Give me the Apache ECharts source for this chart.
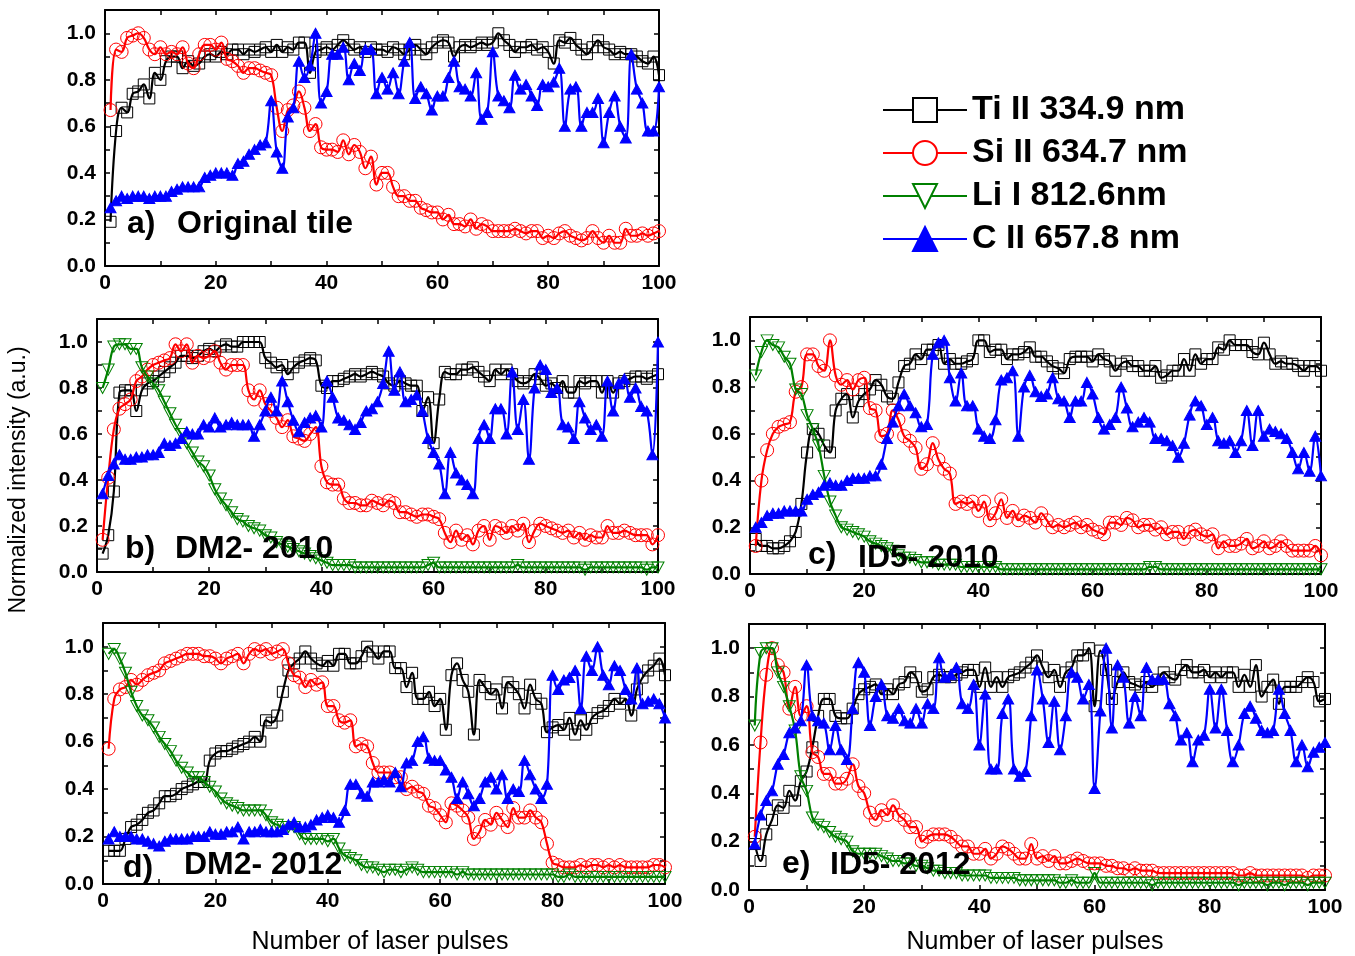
<!DOCTYPE html>
<html><head><meta charset="utf-8">
<script src="https://cdn.jsdelivr.net/npm/echarts@6/dist/echarts.min.js"></script>
<style>html,body{margin:0;padding:0;background:#fff}#c{width:1355px;height:956px}</style>
</head><body><div id="c"></div>
<script>
const pulses = [1,2,3,4,5,6,7,8,9,10,11,12,13,14,15,16,17,18,19,20,21,22,23,24,25,26,27,28,29,30,31,32,33,34,35,36,37,38,39,40,41,42,43,44,45,46,47,48,49,50,51,52,53,54,55,56,57,58,59,60,61,62,63,64,65,66,67,68,69,70,71,72,73,74,75,76,77,78,79,80,81,82,83,84,85,86,87,88,89,90,91,92,93,94,95,96,97,98,99,100];
const seriesNames = ['Ti II 334.9 nm','Si II 634.7 nm','Li I 812.6nm','C II 657.8 nm'];
const panelLabels = [['a)','Original tile'],['b)','DM2- 2010'],['c)','ID5- 2010'],['d)','DM2- 2012'],['e)','ID5- 2012']];
const xTitle = 'Number of laser pulses';
const yTitle = 'Normalized intensity (a.u.)';

// ---- panel a) Original tile ----
const tiA = [
0.19,0.58,0.68,0.66,0.74,0.75,0.78,0.72,0.83,0.80,
0.88,0.90,0.90,0.85,0.88,0.86,0.87,0.90,0.91,0.90,
0.92,0.91,0.93,0.93,0.91,0.93,0.92,0.93,0.94,0.92,
0.95,0.92,0.94,0.93,0.96,0.96,0.83,0.92,0.93,0.94,
0.93,0.95,0.97,0.95,0.93,0.94,0.92,0.94,0.93,0.93,
0.92,0.94,0.93,0.91,0.93,0.95,0.93,0.91,0.94,0.96,
0.97,0.96,0.90,0.94,0.95,0.94,0.95,0.96,0.95,0.96,
1.00,0.97,0.95,0.92,0.94,0.94,0.95,0.93,0.94,0.92,
0.87,0.97,0.96,0.98,0.95,0.93,0.91,0.94,0.97,0.94,
0.93,0.91,0.92,0.91,0.91,0.90,0.88,0.87,0.90,0.82];
const siA = [
0.67,0.93,0.92,0.98,0.99,1.00,0.98,0.93,0.91,0.94,
0.91,0.92,0.91,0.94,0.87,0.85,0.91,0.95,0.95,0.93,
0.96,0.89,0.88,0.86,0.83,0.85,0.85,0.84,0.83,0.82,
0.68,0.58,0.67,0.69,0.75,0.68,0.58,0.61,0.51,0.50,
0.50,0.49,0.54,0.48,0.52,0.49,0.42,0.47,0.35,0.40,
0.40,0.34,0.30,0.30,0.28,0.28,0.25,0.24,0.23,0.23,
0.20,0.22,0.18,0.18,0.17,0.20,0.16,0.18,0.17,0.15,
0.15,0.15,0.15,0.16,0.15,0.14,0.15,0.15,0.12,0.13,
0.12,0.14,0.15,0.13,0.12,0.11,0.12,0.15,0.12,0.10,
0.13,0.10,0.10,0.16,0.13,0.13,0.14,0.13,0.14,0.15];
const cA = [
0.25,0.28,0.30,0.29,0.30,0.30,0.30,0.29,0.30,0.30,
0.30,0.32,0.33,0.34,0.34,0.34,0.34,0.38,0.39,0.40,
0.40,0.40,0.39,0.44,0.45,0.48,0.50,0.52,0.53,0.71,
0.49,0.42,0.64,0.68,0.88,0.81,0.86,1.00,0.70,0.75,
0.91,0.91,0.94,0.80,0.87,0.84,0.93,0.93,0.74,0.81,
0.76,0.83,0.74,0.88,0.96,0.72,0.77,0.74,0.67,0.73,
0.73,0.81,0.88,0.77,0.76,0.73,0.83,0.63,0.66,0.92,
0.73,0.71,0.68,0.82,0.76,0.78,0.73,0.69,0.78,0.77,
0.79,0.85,0.60,0.76,0.77,0.60,0.66,0.66,0.72,0.53,
0.66,0.73,0.60,0.55,0.91,0.76,0.70,0.58,0.58,0.77];

// ---- panel b) DM2- 2010 ----
const tiB = [
0.08,0.16,0.35,0.78,0.79,0.79,0.70,0.79,0.82,0.83,
0.85,0.87,0.89,0.91,0.94,0.94,0.93,0.94,0.96,0.97,
0.96,0.98,0.99,0.98,0.98,1.00,1.00,1.00,1.00,0.93,
0.91,0.89,0.90,0.86,0.89,0.91,0.92,0.93,0.92,0.81,
0.80,0.83,0.83,0.84,0.85,0.86,0.85,0.86,0.87,0.86,
0.85,0.82,0.81,0.83,0.82,0.81,0.81,0.70,0.76,0.56,
0.75,0.87,0.86,0.86,0.88,0.88,0.89,0.87,0.85,0.83,
0.88,0.86,0.88,0.86,0.83,0.82,0.83,0.86,0.84,0.81,
0.82,0.80,0.83,0.78,0.78,0.83,0.82,0.83,0.83,0.78,
0.83,0.78,0.82,0.83,0.84,0.85,0.85,0.84,0.85,0.86];
const siB = [
0.14,0.41,0.62,0.71,0.73,0.75,0.83,0.85,0.88,0.90,
0.91,0.92,0.93,0.99,0.96,0.99,0.91,0.94,0.93,0.94,
0.96,0.91,0.88,0.90,0.90,0.90,0.79,0.75,0.79,0.73,
0.70,0.67,0.63,0.66,0.59,0.58,0.57,0.60,0.63,0.46,
0.39,0.38,0.38,0.32,0.30,0.30,0.29,0.29,0.31,0.30,
0.29,0.31,0.30,0.26,0.26,0.25,0.24,0.25,0.25,0.24,
0.23,0.17,0.13,0.18,0.14,0.16,0.12,0.18,0.20,0.14,
0.20,0.19,0.17,0.20,0.18,0.21,0.13,0.18,0.21,0.20,
0.19,0.18,0.17,0.18,0.15,0.17,0.14,0.16,0.15,0.15,
0.20,0.17,0.17,0.18,0.17,0.16,0.16,0.16,0.12,0.16];
const liB = [
0.80,0.88,0.98,0.99,0.99,0.97,0.97,0.89,0.85,0.82,
0.79,0.74,0.69,0.64,0.60,0.56,0.52,0.48,0.46,0.42,
0.36,0.32,0.29,0.26,0.23,0.22,0.20,0.19,0.18,0.16,
0.15,0.13,0.12,0.11,0.10,0.09,0.08,0.07,0.06,0.05,
0.04,0.03,0.03,0.03,0.03,0.02,0.02,0.02,0.02,0.02,
0.02,0.02,0.02,0.02,0.02,0.02,0.02,0.02,0.03,0.04,
0.02,0.02,0.02,0.02,0.02,0.02,0.02,0.02,0.02,0.02,
0.02,0.02,0.02,0.02,0.03,0.02,0.02,0.02,0.02,0.02,
0.02,0.02,0.02,0.02,0.02,0.02,0.01,0.02,0.02,0.02,
0.02,0.02,0.02,0.02,0.02,0.02,0.02,0.01,0.02,0.02];
const cB = [
0.34,0.42,0.47,0.51,0.49,0.49,0.50,0.50,0.51,0.51,
0.52,0.56,0.55,0.56,0.58,0.61,0.60,0.60,0.64,0.63,
0.67,0.63,0.64,0.65,0.64,0.64,0.64,0.59,0.64,0.70,
0.76,0.70,0.83,0.74,0.66,0.61,0.65,0.67,0.68,0.63,
0.83,0.76,0.67,0.66,0.64,0.62,0.65,0.70,0.71,0.74,
0.82,0.96,0.79,0.87,0.74,0.75,0.77,0.70,0.58,0.52,
0.47,0.34,0.52,0.43,0.40,0.38,0.34,0.58,0.64,0.58,
0.71,0.71,0.60,0.87,0.62,0.75,0.49,0.80,0.90,0.88,
0.78,0.80,0.64,0.63,0.58,0.74,0.67,0.62,0.64,0.59,
0.83,0.70,0.82,0.84,0.76,0.80,0.72,0.70,0.51,1.00];

// ---- panel c) ID5- 2010 ----
const tiC = [
0.15,0.12,0.12,0.11,0.11,0.12,0.14,0.18,0.30,0.52,
0.62,0.60,0.55,0.52,0.70,0.75,0.77,0.67,0.74,0.77,
0.79,0.83,0.81,0.76,0.75,0.82,0.89,0.90,0.94,0.92,
0.96,0.96,0.98,0.90,0.92,0.90,0.90,0.91,0.92,1.00,
1.00,0.95,0.96,0.96,0.92,0.94,0.94,0.95,0.97,0.93,
0.93,0.91,0.89,0.88,0.86,0.92,0.93,0.93,0.93,0.91,
0.94,0.92,0.91,0.87,0.90,0.91,0.89,0.89,0.87,0.87,
0.89,0.84,0.85,0.87,0.87,0.92,0.87,0.94,0.90,0.92,
0.92,0.97,0.96,1.00,0.98,0.98,0.98,0.95,0.94,0.99,
0.94,0.90,0.91,0.90,0.90,0.89,0.87,0.89,0.89,0.87];
const siC = [
0.12,0.40,0.53,0.60,0.63,0.64,0.65,0.78,0.80,0.94,
0.94,0.89,0.87,1.00,0.85,0.81,0.83,0.79,0.83,0.84,
0.71,0.70,0.59,0.60,0.70,0.66,0.59,0.57,0.54,0.45,
0.47,0.56,0.49,0.45,0.43,0.30,0.31,0.30,0.31,0.27,
0.31,0.23,0.26,0.32,0.24,0.27,0.23,0.25,0.24,0.22,
0.26,0.23,0.20,0.21,0.20,0.21,0.22,0.20,0.21,0.19,
0.18,0.17,0.22,0.22,0.21,0.24,0.23,0.20,0.21,0.21,
0.19,0.20,0.17,0.18,0.18,0.15,0.18,0.19,0.17,0.16,
0.17,0.11,0.14,0.12,0.12,0.13,0.15,0.11,0.12,0.14,
0.11,0.12,0.14,0.12,0.10,0.10,0.10,0.10,0.12,0.08];
const liC = [
0.85,0.95,1.00,0.98,0.97,0.93,0.90,0.79,0.77,0.68,
0.62,0.55,0.42,0.31,0.25,0.20,0.19,0.18,0.17,0.16,
0.14,0.13,0.12,0.11,0.10,0.08,0.07,0.07,0.06,0.05,
0.05,0.05,0.04,0.04,0.04,0.04,0.03,0.03,0.03,0.03,
0.03,0.03,0.03,0.02,0.02,0.02,0.02,0.02,0.02,0.02,
0.02,0.02,0.02,0.02,0.02,0.02,0.02,0.02,0.02,0.02,
0.02,0.02,0.02,0.02,0.02,0.02,0.02,0.02,0.02,0.03,
0.03,0.02,0.02,0.02,0.02,0.02,0.02,0.02,0.02,0.02,
0.02,0.02,0.02,0.02,0.02,0.02,0.02,0.02,0.02,0.02,
0.02,0.02,0.02,0.02,0.02,0.02,0.02,0.02,0.02,0.02];
const cC = [
0.20,0.22,0.25,0.26,0.26,0.27,0.27,0.27,0.27,0.32,
0.34,0.35,0.38,0.39,0.38,0.38,0.40,0.41,0.41,0.41,
0.42,0.42,0.47,0.58,0.65,0.72,0.77,0.72,0.69,0.63,
0.64,0.94,0.99,1.00,0.84,0.74,0.86,0.72,0.72,0.62,
0.59,0.58,0.66,0.83,0.84,0.87,0.59,0.80,0.85,0.78,
0.76,0.77,0.84,0.75,0.74,0.67,0.74,0.74,0.82,0.77,
0.67,0.62,0.64,0.67,0.80,0.71,0.63,0.65,0.67,0.65,
0.58,0.58,0.57,0.55,0.50,0.56,0.68,0.74,0.72,0.64,
0.67,0.57,0.56,0.57,0.52,0.57,0.70,0.55,0.70,0.59,
0.62,0.61,0.60,0.58,0.52,0.45,0.52,0.44,0.59,0.42];

// ---- panel d) DM2- 2012 ----
const tiD = [
0.14,0.14,0.14,0.19,0.24,0.25,0.27,0.30,0.31,0.34,
0.37,0.37,0.38,0.40,0.41,0.42,0.43,0.43,0.52,0.55,
0.56,0.56,0.57,0.58,0.59,0.60,0.62,0.60,0.69,0.68,
0.71,0.81,0.90,0.93,0.95,0.98,0.95,0.93,0.92,0.94,
0.92,0.97,0.97,0.93,0.93,0.96,1.00,0.98,0.95,0.98,
0.98,0.91,0.91,0.83,0.89,0.78,0.78,0.81,0.75,0.78,
0.65,0.88,0.93,0.86,0.81,0.63,0.86,0.83,0.80,0.82,
0.74,0.85,0.83,0.80,0.74,0.84,0.78,0.76,0.64,0.66,
0.67,0.65,0.70,0.63,0.69,0.65,0.70,0.72,0.73,0.75,
0.78,0.76,0.78,0.71,0.82,0.87,0.90,0.92,0.95,0.88];
const siD = [
0.57,0.78,0.82,0.83,0.86,0.84,0.86,0.88,0.89,0.90,
0.93,0.94,0.95,0.96,0.97,0.97,0.97,0.96,0.96,0.95,
0.93,0.95,0.96,0.97,0.93,0.97,0.99,0.98,0.99,0.97,
0.98,0.99,0.93,0.88,0.87,0.83,0.86,0.84,0.85,0.75,
0.75,0.69,0.68,0.69,0.58,0.59,0.58,0.51,0.47,0.47,
0.47,0.45,0.45,0.40,0.41,0.39,0.38,0.33,0.32,0.29,
0.26,0.34,0.33,0.31,0.28,0.19,0.22,0.27,0.25,0.30,
0.27,0.24,0.32,0.28,0.28,0.31,0.28,0.26,0.17,0.09,
0.08,0.07,0.07,0.07,0.08,0.07,0.08,0.08,0.07,0.08,
0.07,0.08,0.07,0.07,0.07,0.07,0.07,0.08,0.08,0.07];
const liD = [
0.97,0.99,0.95,0.89,0.81,0.75,0.71,0.69,0.66,0.62,
0.59,0.56,0.52,0.49,0.47,0.45,0.45,0.43,0.41,0.39,
0.36,0.34,0.33,0.32,0.31,0.31,0.31,0.31,0.29,0.26,
0.25,0.24,0.24,0.24,0.21,0.19,0.19,0.19,0.19,0.18,
0.19,0.15,0.12,0.11,0.10,0.08,0.07,0.07,0.06,0.05,
0.06,0.06,0.05,0.06,0.07,0.06,0.05,0.05,0.05,0.05,
0.05,0.05,0.04,0.05,0.04,0.04,0.04,0.04,0.04,0.04,
0.04,0.04,0.04,0.04,0.04,0.04,0.04,0.04,0.04,0.04,
0.03,0.03,0.04,0.03,0.03,0.03,0.03,0.03,0.03,0.03,
0.03,0.03,0.03,0.03,0.03,0.03,0.03,0.03,0.03,0.03];
const cD = [
0.19,0.22,0.20,0.20,0.20,0.19,0.19,0.18,0.17,0.16,
0.18,0.19,0.19,0.19,0.19,0.20,0.20,0.20,0.22,0.21,
0.21,0.22,0.22,0.24,0.19,0.22,0.22,0.23,0.22,0.22,
0.22,0.23,0.25,0.26,0.24,0.24,0.25,0.27,0.28,0.29,
0.28,0.26,0.31,0.42,0.42,0.38,0.37,0.43,0.43,0.44,
0.43,0.47,0.41,0.51,0.52,0.60,0.62,0.53,0.52,0.52,
0.48,0.45,0.36,0.43,0.38,0.33,0.36,0.43,0.45,0.40,
0.46,0.36,0.40,0.39,0.52,0.46,0.40,0.36,0.42,0.88,
0.82,0.86,0.87,0.90,0.74,0.96,0.90,1.00,0.88,0.84,
0.92,0.90,0.82,0.78,0.91,0.76,0.77,0.78,0.76,0.70];

// ---- panel e) ID5- 2012 ----
const tiE = [
0.19,0.12,0.23,0.29,0.35,0.34,0.41,0.37,0.45,0.49,
0.59,0.72,0.79,0.79,0.72,0.71,0.71,0.75,0.81,0.83,
0.84,0.85,0.81,0.83,0.81,0.85,0.86,0.90,0.88,0.82,
0.83,0.88,0.89,0.88,0.88,0.89,0.90,0.91,0.91,0.84,
0.92,0.84,0.88,0.84,0.88,0.89,0.90,0.92,0.94,0.97,
0.92,0.88,0.91,0.84,0.90,0.92,0.97,0.97,1.00,0.76,
0.99,0.91,0.79,0.86,0.90,0.86,0.85,0.84,0.86,0.84,
0.87,0.90,0.88,0.87,0.91,0.93,0.90,0.90,0.91,0.88,
0.90,0.88,0.90,0.90,0.84,0.89,0.84,0.93,0.80,0.84,
0.87,0.77,0.84,0.84,0.84,0.86,0.88,0.86,0.78,0.79];
const siE = [
0.22,0.61,0.89,1.00,0.93,0.90,0.75,0.84,0.72,0.76,
0.57,0.55,0.48,0.48,0.44,0.44,0.46,0.52,0.43,0.40,
0.32,0.29,0.33,0.31,0.35,0.31,0.29,0.26,0.26,0.20,
0.22,0.23,0.23,0.23,0.22,0.20,0.18,0.18,0.15,0.15,
0.17,0.13,0.15,0.18,0.17,0.15,0.13,0.13,0.19,0.13,
0.14,0.12,0.14,0.11,0.11,0.12,0.13,0.12,0.11,0.11,
0.11,0.10,0.10,0.09,0.09,0.08,0.09,0.08,0.08,0.08,
0.07,0.07,0.07,0.07,0.07,0.07,0.07,0.07,0.07,0.07,
0.07,0.07,0.07,0.07,0.06,0.06,0.07,0.06,0.06,0.06,
0.06,0.06,0.06,0.06,0.06,0.06,0.05,0.06,0.06,0.06];
const liE = [
0.68,0.98,1.00,1.00,0.90,0.84,0.76,0.66,0.47,0.41,
0.30,0.27,0.26,0.24,0.22,0.21,0.20,0.16,0.15,0.15,
0.15,0.15,0.14,0.13,0.12,0.12,0.11,0.11,0.10,0.10,
0.09,0.08,0.08,0.07,0.07,0.07,0.06,0.06,0.06,0.06,
0.06,0.05,0.05,0.05,0.05,0.05,0.04,0.04,0.04,0.04,
0.04,0.04,0.04,0.03,0.03,0.04,0.03,0.03,0.03,0.07,
0.03,0.03,0.03,0.03,0.03,0.03,0.03,0.03,0.03,0.02,
0.03,0.03,0.03,0.03,0.03,0.03,0.03,0.03,0.03,0.03,
0.03,0.03,0.03,0.03,0.02,0.03,0.03,0.03,0.03,0.02,
0.03,0.03,0.02,0.03,0.03,0.03,0.02,0.03,0.03,0.03];
const cE = [
0.19,0.31,0.37,0.41,0.52,0.56,0.65,0.67,0.70,0.93,
0.72,0.70,0.69,0.58,0.68,0.58,0.54,0.75,0.94,0.90,
0.68,0.80,0.85,0.72,0.71,0.75,0.70,0.69,0.75,0.69,
0.77,0.75,0.96,0.88,0.89,0.92,0.77,0.75,0.85,0.60,
0.81,0.50,0.50,0.73,0.79,0.50,0.47,0.49,0.72,0.91,
0.79,0.61,0.78,0.58,0.72,0.90,0.88,0.79,0.85,0.42,
0.74,1.00,0.67,0.93,0.88,0.69,0.80,0.72,0.92,0.87,
0.87,0.87,0.77,0.72,0.62,0.65,0.53,0.62,0.64,0.83,
0.67,0.83,0.66,0.53,0.60,0.73,0.76,0.71,0.66,0.65,
0.66,0.83,0.73,0.66,0.53,0.60,0.51,0.57,0.59,0.61];

const panels = [
  {ti: tiA, si: siA, li: null, c: cA},
  {ti: tiB, si: siB, li: liB, c: cB},
  {ti: tiC, si: siC, li: liC, c: cC},
  {ti: tiD, si: siD, li: liD, c: cD},
  {ti: tiE, si: siE, li: liE, c: cE}
];
panels.forEach((p, i) => ['ti','si','li','c'].forEach(k => {
  if (p[k] && p[k].length !== pulses.length) throw new Error('panel ' + i + ' ' + k + ' has ' + p[k].length);
}));

// layout (pixels)
const grids = [
  {left: 105, top: 10, width: 554, height: 256},
  {left: 97, top: 319, width: 561, height: 253},
  {left: 750, top: 317, width: 571, height: 257},
  {left: 103, top: 623, width: 562, height: 261},
  {left: 749, top: 624, width: 576, height: 266}
];
const labelPos = [
  [[127, 224], [177, 224]],
  [[125, 549], [175, 549]],
  [[808, 555], [858, 558]],
  [[123, 868], [184, 865]],
  [[782, 864], [830, 865]]
];
const FONT = 'Liberation Sans';
const styles = [
  {symbol: 'rect', size: [11, 11], rotate: 0, line: '#000000', fill: 'rgba(0,0,0,0)', border: '#000000'},
  {symbol: 'circle', size: 13, rotate: 0, line: '#ff0000', fill: 'rgba(0,0,0,0)', border: '#ff0000'},
  {symbol: 'triangle', size: [12, 11], rotate: 180, line: '#008000', fill: 'rgba(0,0,0,0)', border: '#008000'},
  {symbol: 'triangle', size: [11, 10], rotate: 0, line: '#0000ff', fill: '#0000ff', border: '#0000ff'}
];

const xAxes = [], yAxes = [], series = [], graphics = [];
const axisLineStyle = {color: '#000', width: 2};
grids.forEach((g, i) => {
  xAxes.push({type: 'value', gridIndex: i, min: 0, max: 100, interval: 10, position: 'bottom',
    axisLine: {show: true, onZero: false, lineStyle: axisLineStyle},
    axisTick: {show: true, inside: true, length: 5, lineStyle: {color: '#000', width: 1.5}},
    axisLabel: {show: true, margin: 7, color: '#000', fontFamily: FONT, fontWeight: 'bold', fontSize: 21,
      formatter: v => (Math.round(v) % 20 === 0 ? String(Math.round(v)) : '')},
    splitLine: {show: false}});
  xAxes.push({type: 'value', gridIndex: i, min: 0, max: 100, interval: 10, position: 'top',
    axisLine: {show: true, onZero: false, lineStyle: axisLineStyle},
    axisTick: {show: true, inside: true, length: 5, lineStyle: {color: '#000', width: 1.5}},
    axisLabel: {show: false}, splitLine: {show: false}});
  yAxes.push({type: 'value', gridIndex: i, min: 0, max: 1.1, interval: 0.1, position: 'left',
    axisLine: {show: true, onZero: false, lineStyle: axisLineStyle},
    axisTick: {show: true, inside: true, length: 5, lineStyle: {color: '#000', width: 1.5}},
    axisLabel: {show: true, margin: 9, color: '#000', fontFamily: FONT, fontWeight: 'bold', fontSize: 21,
      formatter: v => { const k = Math.round(v * 10); return (k % 2 === 0 && k <= 10) ? (k / 10).toFixed(1) : ''; }},
    splitLine: {show: false}});
  yAxes.push({type: 'value', gridIndex: i, min: 0, max: 1.1, interval: 0.1, position: 'right',
    axisLine: {show: true, onZero: false, lineStyle: axisLineStyle},
    axisTick: {show: true, inside: true, length: 5, lineStyle: {color: '#000', width: 1.5}},
    axisLabel: {show: false}, splitLine: {show: false}});

  const p = panels[i];
  [p.ti, p.si, p.li, p.c].forEach((arr, k) => {
    if (!arr) return;
    const st = styles[k];
    series.push({
      name: seriesNames[k], type: 'line', xAxisIndex: 2 * i, yAxisIndex: 2 * i,
      data: arr.map((v, j) => [pulses[j], v]),
      smooth: 0.4, showAllSymbol: true, symbol: st.symbol, symbolSize: st.size, symbolRotate: st.rotate,
      lineStyle: {color: st.line, width: 2.2},
      itemStyle: {color: st.fill, borderColor: st.border, borderWidth: 1},
      z: 2 + k, animation: false, silent: true
    });
  });

  const lp = labelPos[i];
  graphics.push({type: 'text', x: lp[0][0], y: lp[0][1], z: 100,
    style: {text: panelLabels[i][0], fill: '#000', font: 'bold 32px "' + FONT + '"', verticalAlign: 'middle'}});
  graphics.push({type: 'text', x: lp[1][0], y: lp[1][1], z: 100,
    style: {text: panelLabels[i][1], fill: '#000', font: 'bold 32px "' + FONT + '"', verticalAlign: 'middle'}});
});

graphics.push({type: 'text', x: 380, y: 942, z: 100,
  style: {text: xTitle, fill: '#000', font: '25px "' + FONT + '"', align: 'center', verticalAlign: 'middle'}});
graphics.push({type: 'text', x: 1035, y: 942, z: 100,
  style: {text: xTitle, fill: '#000', font: '25px "' + FONT + '"', align: 'center', verticalAlign: 'middle'}});
graphics.push({type: 'text', x: 19, y: 480, rotation: Math.PI / 2, z: 100,
  style: {text: yTitle, fill: '#000', font: '23px "' + FONT + '"', align: 'center', verticalAlign: 'middle'}});

const chart = echarts.init(document.getElementById('c'), null, {renderer: 'canvas'});
chart.setOption({
  backgroundColor: '#ffffff',
  animation: false,
  grid: grids.map(g => Object.assign({containLabel: false}, g)),
  xAxis: xAxes,
  yAxis: yAxes,
  legend: {
    orient: 'vertical', left: 882, top: 93, padding: 0, itemWidth: 84, itemHeight: 30, itemGap: 9,
    selectedMode: false,
    textStyle: {fontFamily: FONT, fontWeight: 'bold', fontSize: 34, color: '#000', lineHeight: 32},
    data: [
      {name: seriesNames[0], itemStyle: {color: '#fff'}},
      {name: seriesNames[1], itemStyle: {color: '#fff'}},
      {name: seriesNames[2], itemStyle: {color: '#fff'}},
      {name: seriesNames[3]}
    ]
  },
  series: series,
  graphic: graphics
});
</script>
</body></html>
